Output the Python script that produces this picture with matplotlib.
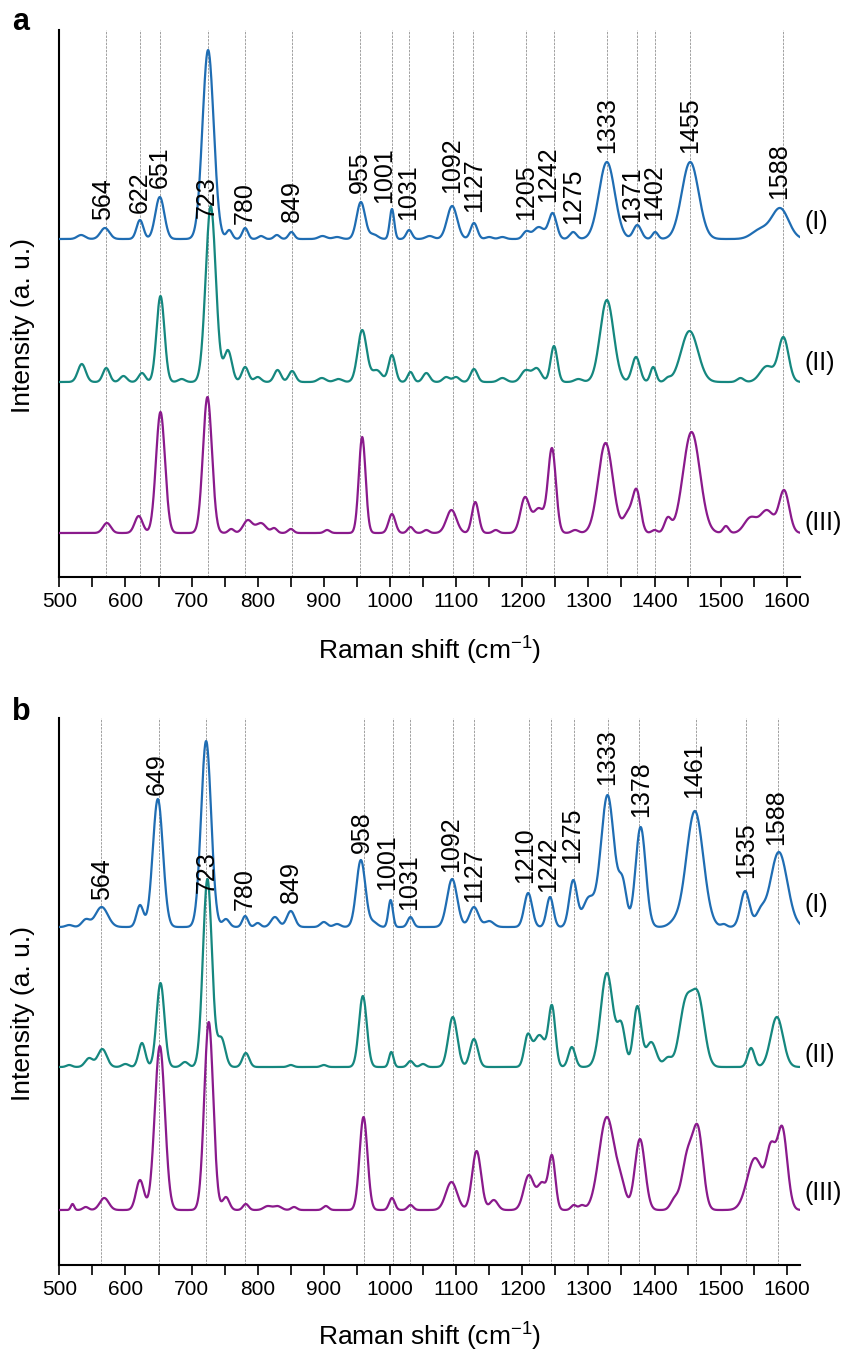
import numpy as np
import matplotlib
matplotlib.use("Agg")
import matplotlib.pyplot as plt

plt.rcParams['font.family'] = ['Liberation Sans', 'DejaVu Sans']
plt.rcParams['mathtext.fontset'] = 'custom'
plt.rcParams['mathtext.rm'] = 'Liberation Sans'
plt.rcParams['mathtext.it'] = 'Liberation Sans:italic'
plt.rcParams['mathtext.bf'] = 'Liberation Sans:bold'

# ---------------- data ----------------
# panel a
a1_pos = [533, 569, 622, 652, 725, 757, 781, 805, 829, 851, 898, 920, 956, 975, 1003, 1029, 1060, 1094, 1127, 1150, 1170, 1206, 1225, 1246, 1277, 1328, 1374, 1401, 1454, 1560, 1590]
a1_hgt = [4, 11, 19, 42, 189, 9, 11, 3, 4, 7, 3, 2, 37, 5, 30, 9, 3, 33, 16, 2, 2, 8, 12, 26, 7, 77, 14, 7, 77, 11, 31]
a1_fw = [14, 16, 12, 16, 20, 10, 10, 10, 10, 10, 14, 14, 15, 15, 8, 10, 14, 18, 12, 12, 12, 12, 20, 14, 12, 28, 14, 10, 30, 30, 30]

a2_pos = [534, 571, 597, 625, 653, 685, 729, 755, 781, 800, 830, 852, 897, 922, 958, 980, 1003, 1031, 1055, 1085, 1100, 1127, 1170, 1205, 1222, 1248, 1285, 1328, 1372, 1398, 1420, 1453, 1530, 1570, 1595]
a2_hgt = [18, 14, 6, 9, 86, 3, 176, 32, 15, 5, 12, 11, 4, 3, 52, 12, 27, 10, 9, 5, 5, 13, 4, 12, 14, 36, 3, 82, 25, 15, 5, 51, 4, 16, 45]
a2_fw = [14, 12, 12, 12, 14, 12, 18, 14, 12, 12, 12, 12, 14, 14, 16, 18, 12, 10, 12, 12, 12, 12, 14, 16, 16, 12, 14, 24, 14, 10, 10, 30, 12, 24, 18]

a3_pos = [572, 620, 653, 724, 760, 785, 805, 825, 850, 905, 958, 1003, 1031, 1055, 1093, 1129, 1160, 1204, 1225, 1245, 1280, 1326, 1360, 1373, 1400, 1420, 1456, 1508, 1545, 1570, 1596]
a3_hgt = [10, 17, 121, 136, 4, 13, 10, 5, 4, 3, 96, 19, 6, 3, 23, 31, 3, 36, 25, 85, 3, 90, 23, 44, 3, 16, 101, 7, 16, 23, 43]
a3_fw = [14, 14, 16, 16, 10, 16, 18, 10, 10, 10, 12, 12, 10, 10, 18, 12, 10, 16, 20, 14, 12, 26, 16, 14, 10, 12, 30, 10, 22, 24, 18]

a_offsets = [338, 195, 44]
a_lines = [571, 622, 653, 725, 781, 852, 955, 1003, 1029, 1095, 1126, 1206, 1248, 1328, 1374, 1401, 1454, 1594]
a_label_x = [566, 622, 652, 723, 781, 851, 955, 991, 1027, 1094, 1127, 1206, 1239, 1277, 1328, 1366, 1400, 1454, 1589]
a_label_txt = ['564', '622', '651', '723', '780', '849', '955', '1001', '1031', '1092', '1127', '1205', '1242', '1275', '1333', '1371', '1402', '1455', '1588']
a_label_y = [357, 364, 389, 359, 353, 355, 384, 374, 357, 384, 365, 357, 375, 353, 424, 355, 357, 424, 378]

# panel b
b1_pos = [515, 540, 564, 622, 649, 722, 752, 781, 800, 826, 850, 900, 920, 956, 975, 1001, 1031, 1094, 1127, 1150, 1209, 1242, 1277, 1300, 1329, 1352, 1379, 1430, 1461, 1505, 1537, 1560, 1588]
b1_hgt = [2, 8, 20, 22, 128, 186, 8, 11, 4, 10, 16, 5, 3, 67, 6, 27, 10, 48, 20, 6, 34, 30, 47, 30, 132, 50, 100, 10, 116, 3, 36, 20, 75]
b1_fw = [12, 14, 22, 12, 18, 18, 12, 10, 10, 14, 14, 12, 12, 16, 14, 8, 10, 18, 16, 16, 14, 12, 14, 20, 24, 14, 18, 20, 30, 10, 16, 16, 30]

b2_pos = [515, 545, 565, 600, 625, 653, 690, 724, 745, 782, 850, 900, 959, 1002, 1031, 1050, 1095, 1127, 1208, 1226, 1245, 1275, 1328, 1350, 1374, 1395, 1420, 1447, 1466, 1546, 1585]
b2_hgt = [2, 9, 18, 3, 24, 84, 5, 188, 30, 14, 2, 2, 71, 15, 6, 3, 50, 28, 33, 32, 62, 20, 94, 45, 61, 25, 10, 70, 75, 19, 50]
b2_fw = [10, 14, 16, 12, 12, 14, 12, 16, 14, 12, 10, 10, 14, 8, 10, 10, 16, 14, 12, 22, 12, 12, 22, 14, 14, 18, 14, 22, 22, 12, 22]

b3_pos = [520, 540, 568, 622, 652, 726, 752, 782, 815, 830, 855, 903, 960, 1003, 1031, 1093, 1131, 1157, 1210, 1230, 1245, 1278, 1290, 1328, 1350, 1378, 1430, 1450, 1466, 1552, 1576, 1593]
b3_hgt = [6, 3, 12, 30, 164, 188, 13, 6, 4, 4, 3, 4, 93, 12, 5, 28, 59, 10, 35, 28, 55, 5, 5, 93, 35, 71, 13, 62, 84, 52, 68, 84]
b3_fw = [6, 10, 16, 14, 18, 16, 12, 10, 14, 14, 10, 10, 14, 10, 10, 20, 16, 14, 18, 16, 12, 10, 10, 28, 16, 18, 14, 20, 18, 28, 16, 18]

b_offsets = [338, 198, 55]
b_lines = [563, 650, 722, 781, 960, 1004, 1030, 1095, 1127, 1210, 1244, 1279, 1329, 1377, 1462, 1539, 1587]
b_label_x = [564, 648, 723, 781, 850, 957, 996, 1029, 1093, 1127, 1204, 1239, 1276, 1329, 1380, 1460, 1538, 1584]
b_label_txt = ['564', '649', '723', '780', '849', '958', '1001', '1031', '1092', '1127', '1210', '1242', '1275', '1333', '1378', '1461', '1535', '1588']
b_label_y = [365, 470, 372, 355, 362, 412, 375, 355, 393, 363, 382, 373, 402, 480, 448, 467, 387, 420]

series_names = ['(I)', '(II)', '(III)']
a_name_y = [355, 214, 54]
b_name_y = [360, 210, 72]
colors = ['#1f6db3', '#15877f', '#8a1a8c']

x_range = (500, 1620)
x_ticks = [500, 600, 700, 800, 900, 1000, 1100, 1200, 1300, 1400, 1500, 1600]


def spectrum(x, pos, hgt, fw):
    pos = np.asarray(pos, float)
    hgt = np.asarray(hgt, float)
    sig = np.asarray(fw, float) / 2.3548
    G = np.exp(-0.5 * ((pos[:, None] - pos[None, :]) / sig[None, :]) ** 2)
    amp = hgt.copy()
    for _ in range(400):
        amp = np.clip(amp + 0.5 * (hgt - G @ amp), 0, None)
    return (amp[None, :] * np.exp(-0.5 * ((x[:, None] - pos[None, :]) / sig[None, :]) ** 2)).sum(1)


fig = plt.figure(figsize=(8.44, 13.53), dpi=100)
W, H = 844, 1353
left, right = 59.3 / W, 800 / W
ax_a = fig.add_axes([left, 1 - 577 / H, right - left, 547 / H])
ax_b = fig.add_axes([left, 1 - 1265 / H, right - left, 547 / H])

x = np.arange(x_range[0], x_range[1] + 0.25, 0.5)

panels = [
    (ax_a, [(a1_pos, a1_hgt, a1_fw), (a2_pos, a2_hgt, a2_fw), (a3_pos, a3_hgt, a3_fw)],
     a_offsets, a_lines, a_label_x, a_label_txt, a_label_y, a_name_y, -0.1517),
    (ax_b, [(b1_pos, b1_hgt, b1_fw), (b2_pos, b2_hgt, b2_fw), (b3_pos, b3_hgt, b3_fw)],
     b_offsets, b_lines, b_label_x, b_label_txt, b_label_y, b_name_y, -0.148),
]

for ax, specs, offs, lines, lx, ltxt, ly, name_y, xl_y in panels:
    for lp in lines:
        ax.axvline(lp, color='#a0a0a0', lw=0.7, ls=(0, (2.5, 1.2)), zorder=1)
    for (p, h, f), off, c in zip(specs, offs, colors):
        ax.plot(x, spectrum(x, p, h, f) + off, color=c, lw=1.6, zorder=3)
    for xx, t, yy in zip(lx, ltxt, ly):
        ax.text(xx, yy, t, rotation=90, ha='center', va='bottom', fontsize=18, zorder=4)
    for nm, yy in zip(series_names, name_y):
        ax.text(1627, yy, nm, ha='left', va='center', fontsize=18, clip_on=False)
    ax.set_xlim(*x_range)
    ax.set_ylim(0, 547)
    ax.set_yticks([])
    ax.spines['top'].set_visible(False)
    ax.spines['right'].set_visible(False)
    ax.spines['left'].set_linewidth(1.5)
    ax.spines['bottom'].set_linewidth(1.5)
    ax.set_xticks(x_ticks)
    ax.set_xticks(np.arange(550, 1601, 100), minor=True)
    ax.tick_params(axis='x', which='both', direction='out', length=7, width=1.2, labelsize=15, pad=4)
    ax.set_xlabel('Raman shift (cm$^{-1}$)', fontsize=19)
    ax.xaxis.label.set_va('baseline')
    ax.xaxis.set_label_coords(0.5, xl_y)
    ax.set_ylabel('Intensity (a. u.)', fontsize=19)
    ax.yaxis.label.set_va('center')
    ax.yaxis.set_label_coords(-0.049, 0.46)

fig.text(12 / W, 1 - 30 / H, 'a', fontsize=22, fontweight='bold', va='baseline', ha='left')
fig.text(12 / W, 1 - 720 / H, 'b', fontsize=22, fontweight='bold', va='baseline', ha='left')

fig.savefig('out.png', dpi=100)
